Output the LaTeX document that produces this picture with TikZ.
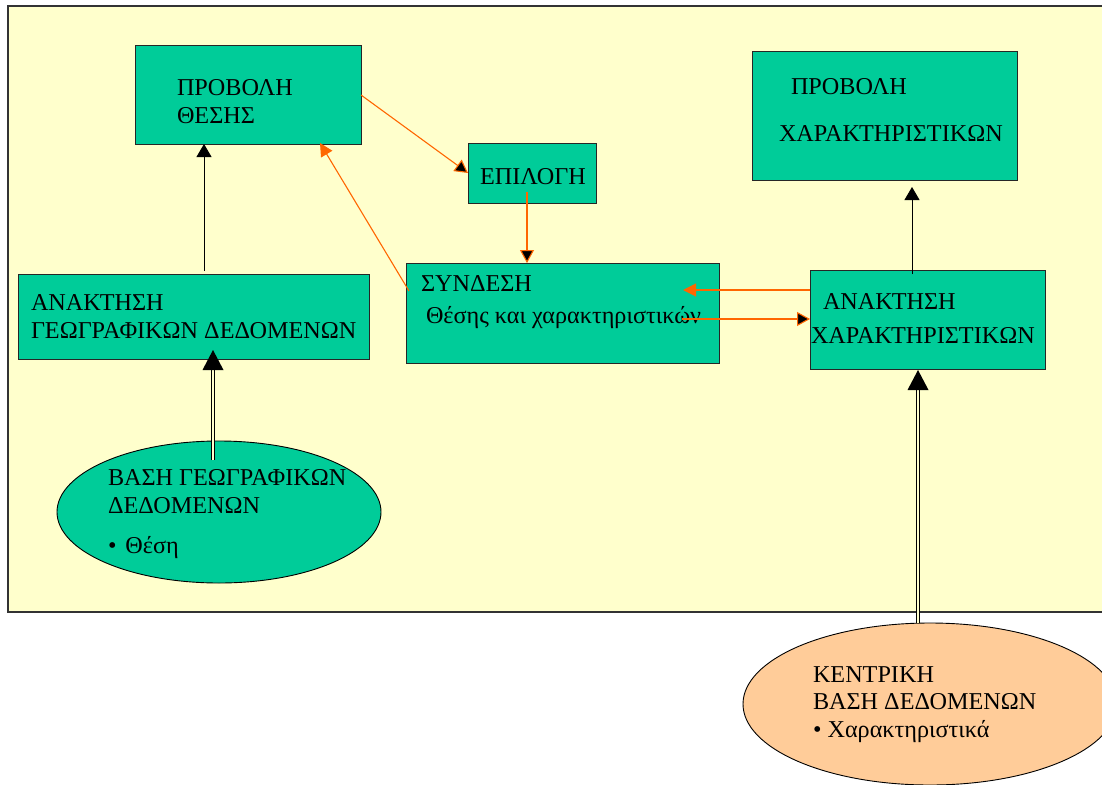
\documentclass[tikz,border=0pt]{standalone}
\usepackage{fontspec}
\setmainfont{Liberation Serif}
\usetikzlibrary{arrows.meta,shapes.geometric}

\definecolor{panel}{HTML}{FFFFCC}
\definecolor{teal}{HTML}{00CC99}
\definecolor{peach}{HTML}{FFCC99}
\definecolor{flow}{HTML}{FF6600}

\tikzset{
  box/.style={rectangle, draw=black!85, line width=1pt, fill=teal,
              inner sep=0pt, outer sep=0pt},
  dbase/.style={ellipse, draw=black, line width=0.9pt, inner sep=0pt, outer sep=0pt},
  txt/.style={anchor=base west, inner sep=0pt, outer sep=0pt,
              font=\fontsize{24.2}{28}\selectfont},
  blkarrow/.style={draw=black, line width=0.9pt, -{Triangle[length=13pt,width=15pt]}},
  orgarrow/.style={draw=flow, line width=1.1pt, -{Triangle[length=13pt,width=13pt]}},
  orgdark/.style={draw=flow, line width=1.1pt, -{Triangle[length=13pt,width=14pt,fill=black]}},
  dblshaft/.style={draw=black, line width=0.9pt, double=panel, double distance=1.8pt},
}

\begin{document}
\begin{tikzpicture}[x=1pt,y=-1pt]
\useasboundingbox (0,0) rectangle (1102,784);
\clip (0,0) rectangle (1102,784);
\fill[white] (0,0) rectangle (1102,784);

% application frame
\draw[fill=panel, draw=black!80, line width=1.2pt] (8,6) rectangle (1120,612);

% process boxes
\node[box, minimum width=226pt, minimum height=98pt]  (pth) at (248,95) {};
\node[box, minimum width=351pt, minimum height=85pt]  (geo) at (193.5,316.5) {};
\node[box, minimum width=128pt, minimum height=60pt]  (epi) at (532,173) {};
\node[box, minimum width=313pt, minimum height=100pt] (syn) at (562.5,313) {};
\node[box, minimum width=235pt, minimum height=99pt]  (ank) at (927.5,319.5) {};
\node[box, minimum width=265pt, minimum height=128pt] (pch) at (884.5,116) {};

% data stores
\node[dbase, fill=teal,  minimum width=324pt, minimum height=142pt] (bgeo) at (219,512) {};
\node[dbase, fill=peach, minimum width=374pt, minimum height=162pt] (kvd)  at (930,704) {};

% labels
\node[txt] (pthA) at (177,95)  {ΠΡΟΒΟΛΗ};
\node[txt] (pthB) at (177,123) {ΘΕΣΗΣ};
\node[txt] (geoA) at (31,310)  {ΑΝΑΚΤΗΣΗ};
\node[txt] (geoB) at (31,338)  {ΓΕΩΓΡΑΦΙΚΩΝ ΔΕΔΟΜΕΝΩΝ};
\node[txt] (epiA) at (480,184) {ΕΠΙΛΟΓΗ};
\node[txt] (synA) at (421,291) {ΣΥΝΔΕΣΗ};
\node[txt] (synB) at (426,323) {Θέσης και χαρακτηριστικών};
\node[txt] (ankA) at (823,309) {ΑΝΑΚΤΗΣΗ};
\node[txt] (ankB) at (811,343) {ΧΑΡΑΚΤΗΡΙΣΤΙΚΩΝ};
\node[txt] (pchA) at (791,94)  {ΠΡΟΒΟΛΗ};
\node[txt] (pchB) at (779,141) {ΧΑΡΑΚΤΗΡΙΣΤΙΚΩΝ};
\node[txt] (bgeoA) at (108,485) {ΒΑΣΗ ΓΕΩΓΡΑΦΙΚΩΝ};
\node[txt] (bgeoB) at (108,513) {ΔΕΔΟΜΕΝΩΝ};
\node[txt] (bgeoC) at (108,553) {•\hspace{9pt}Θέση};
\node[txt] (kvdA) at (813,682) {ΚΕΝΤΡΙΚΗ};
\node[txt] (kvdB) at (813,709) {ΒΑΣΗ ΔΕΔΟΜΕΝΩΝ};
\node[txt] (kvdC) at (813,737) {• Χαρακτηριστικά};

% connector end points
\coordinate (geoOut) at (204,271);
\coordinate (ankOut) at (912,274);
\coordinate (pchIn)  at (912,187);
\coordinate (epiOut) at (527,192);
\coordinate (synOut) at (409,291);
\coordinate (pthIn)  at (320,143);
\coordinate (ankL1)  at (810,290);
\coordinate (synIn)  at (683,290);
\coordinate (synR2)  at (682,319);
\coordinate (bgeoUp) at (213,460);
\coordinate (geoTipB) at (213,370);
\coordinate (geoTip) at (213,350);
\coordinate (kvdUp)  at (918,623);
\coordinate (ankTipB) at (918,390);
\coordinate (ankTip) at (918,370);

% black flow arrows
\draw[blkarrow] (geoOut) -- (geoOut |- pth.south);
\draw[blkarrow] (ankOut) -- (pchIn);

% orange flow arrows
\draw[orgdark]  (pth.east) -- (epi.west);
\draw[orgdark]  (epiOut) -- (epiOut |- syn.north);
\draw[orgarrow] (synOut) -- (pthIn);
\draw[orgarrow] (ankL1) -- (synIn);
\draw[orgdark]  (synR2) -- (synR2 -| ank.west);

% double-line data feeds
\draw[dblshaft] (bgeoUp) -- (geoTipB);
\fill[black] (geoTip) -- ([xshift=-10.5pt]geoTipB) -- ([xshift=10.5pt]geoTipB) -- cycle;
\draw[dblshaft] (kvdUp) -- (ankTipB);
\fill[black] (ankTip) -- ([xshift=-10.5pt]ankTipB) -- ([xshift=10.5pt]ankTipB) -- cycle;
\end{tikzpicture}
\end{document}
